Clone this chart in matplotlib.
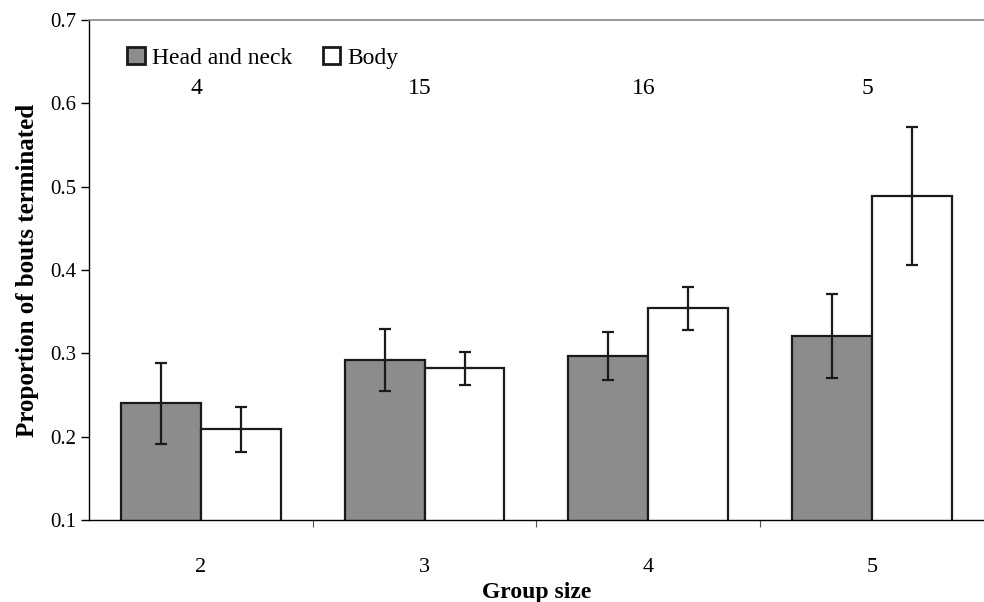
import numpy as np
import matplotlib.pyplot as plt

group_sizes = ["2", "3", "4", "5"]
n_groups = ["4", "15", "16", "5"]

head_neck = [0.240, 0.292, 0.297, 0.321]
head_neck_err = [0.049, 0.037, 0.029, 0.050]
body = [0.209, 0.282, 0.354, 0.489]
body_err = [0.027, 0.020, 0.026, 0.083]

plt.rcParams['font.family'] = ['Liberation Serif', 'DejaVu Serif']

fig = plt.figure(figsize=(9.84, 6.02), dpi=100)
ax = fig.add_axes([0.0904, 0.1362, 0.9096, 0.8306])

x = np.arange(len(group_sizes))
w = 0.357
err_kw = dict(ecolor='#1a1a1a', elinewidth=1.6, capsize=4.5, capthick=1.6)
ax.bar(x - w / 2, head_neck, w, yerr=head_neck_err, color='#8b8c8e',
       edgecolor='#1a1a1a', linewidth=1.6, label='Head and neck', error_kw=err_kw)
ax.bar(x + w / 2, body, w, yerr=body_err, color='white',
       edgecolor='#1a1a1a', linewidth=1.6, label='Body', error_kw=err_kw)

for xi, n in zip(x, n_groups):
    ax.text(xi - 0.02, 0.618, n, ha='center', va='center', fontsize=17)

ax.set_xlim(-0.5, len(group_sizes) - 0.5)
ax.set_ylim(0.1, 0.7)
ax.set_yticks(np.arange(0.1, 0.71, 0.1))
ax.set_yticklabels(["%.1f" % v for v in np.arange(0.1, 0.71, 0.1)])
ax.set_xticks(x)
ax.set_xticklabels(group_sizes)
ax.set_xticks(np.arange(0.5, len(group_sizes) - 1, 1), minor=True)
ax.tick_params(axis='x', which='major', length=0, pad=27, labelsize=16)
ax.tick_params(axis='x', which='minor', length=5, width=0.8, color='#555555')
ax.tick_params(axis='y', length=6, width=1.0, labelsize=15, pad=3)

ax.spines['right'].set_visible(False)
ax.spines['top'].set_color('#888888')
ax.spines['top'].set_linewidth(1.2)
ax.spines['left'].set_linewidth(1.0)
ax.spines['bottom'].set_linewidth(1.0)

ax.set_xlabel("Group size", fontsize=17, fontweight='bold', labelpad=4)
ax.set_ylabel("Proportion of bouts terminated", fontsize=18, fontweight='bold', labelpad=8)

leg = ax.legend(loc='upper left', ncol=2, frameon=False, fontsize=17,
                handlelength=0.75, handleheight=0.75, handletextpad=0.3,
                columnspacing=1.3, bbox_to_anchor=(0.032, 0.965), borderaxespad=0)
for h in leg.legend_handles:
    h.set_linewidth(2.0)

fig.savefig("out.png", dpi=100)
